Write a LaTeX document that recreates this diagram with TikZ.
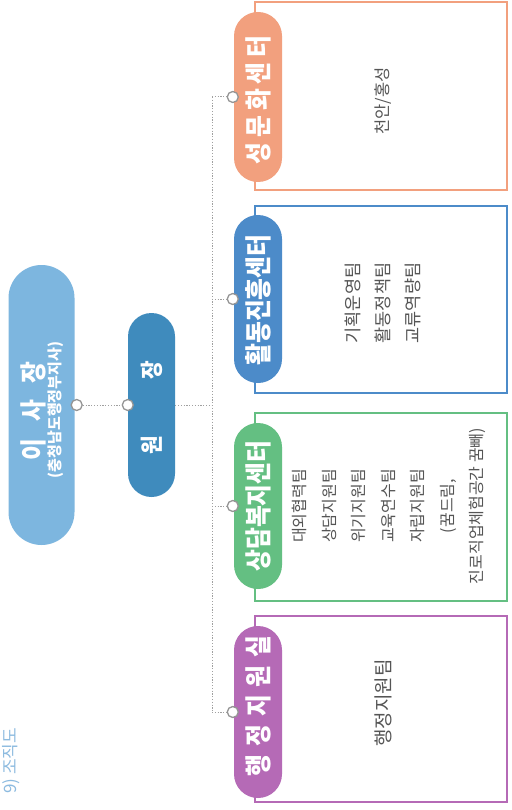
\documentclass[tikz,border=0pt]{standalone}
\usepackage{fontspec}
\setmainfont{Noto Sans CJK KR}
\newfontfamily\krc{Noto Sans CJK KR}[FakeStretch=0.88]
\definecolor{orgC}{HTML}{F2A07E}
\definecolor{actC}{HTML}{4C8BC9}
\definecolor{grnC}{HTML}{64BF82}
\definecolor{purC}{HTML}{B56AB6}
\definecolor{chairC}{HTML}{7DB6DF}
\definecolor{dirC}{HTML}{3F8BBD}
\definecolor{titC}{HTML}{8DBBE0}
\definecolor{txtC}{HTML}{555555}
\definecolor{dotC}{HTML}{A0A0A0}
\definecolor{ringC}{HTML}{959595}
\tikzset{
  pill/.style={rotate=90, inner sep=0pt, draw=none},
  deptpill/.style={pill, minimum height=48pt, rounded corners=24pt},
  pilltext/.style={rotate=90, inner sep=0pt, text=white, font=\krc\bfseries\fontsize{27}{27}\selectfont},
  deptbox/.style={draw, line width=1.3pt, minimum width=252pt, inner sep=0pt, fill=white},
  boxtext/.style={rotate=90, inner sep=0pt, text=txtC, align=center},
  ring/.style={circle, draw=ringC, fill=white, line width=1.3pt, minimum size=11pt, inner sep=0pt},
  conn/.style={draw=dotC, line width=1pt, dash pattern=on 1.2pt off 1.6pt}
}
\begin{document}
\begin{tikzpicture}[x=1pt,y=1pt]
\path[use as bounding box, fill=white] (0,0) rectangle (511,-810);

% title
\node[rotate=90, text=titC, inner sep=0pt, font=\fontsize{17}{17}\selectfont] (title) at (11,-761) {9) 조직도};

% department boxes
\node[deptbox, draw=orgC, minimum height=188pt] (b1) at (381,-96) {};
\node[deptbox, draw=actC, minimum height=187pt] (b2) at (381,-299.5) {};
\node[deptbox, draw=grnC, minimum height=188pt] (b3) at (381,-507) {};
\node[deptbox, draw=purC, minimum height=186pt] (b4) at (381,-709) {};

% box contents
\node[boxtext, font=\fontsize{16.5}{16.5}\selectfont] (b1t) at (383,-101) {천안/홍성};
\node[boxtext, font=\fontsize{17.5}{30}\selectfont] (b2t) at (383,-303) {기획운영팀\\활동정책팀\\교류역량팀};
\node[boxtext, font=\fontsize{16}{29.5}\selectfont] (b3t) at (389,-506) {대외협력팀\\상담지원팀\\위기지원팀\\교육연수팀\\자립지원팀\\(꿈드림,\\진로직업체험공간 꿈빼)};
\node[boxtext, font=\fontsize{19}{19}\selectfont] (b4t) at (383,-703) {행정지원팀};

% chairman
\node[pill, fill=chairC, minimum width=280pt, minimum height=66pt, rounded corners=33pt] (chair) at (41.5,-405) {};
\node[pilltext, font=\krc\bfseries\fontsize{27}{27}\selectfont] (chairt) at (33,-411) {이\hspace{17pt}사\hspace{17pt}장};
\node[pilltext, font=\bfseries\fontsize{15}{15}\selectfont] (chairs) at (56,-410) {(충청남도행정부지사)};

% director
\node[pill, fill=dirC, minimum width=184pt, minimum height=47pt, rounded corners=23.5pt] (dir) at (151.5,-405) {};
\node[pilltext, font=\krc\bfseries\fontsize{23}{23}\selectfont] (dirt) at (152,-407.5) {원\hspace{57pt}장};

% department pills
\node[deptpill, fill=orgC, minimum width=170pt] (p1) at (258,-97) {};
\node[pilltext] (p1t) at (258,-100) {성\hspace{5pt}문\hspace{5pt}화\hspace{5pt}센\hspace{5pt}터};
\node[deptpill, fill=actC, minimum width=168pt] (p2) at (258,-299) {};
\node[pilltext] (p2t) at (258,-300) {활동진흥센터};
\node[deptpill, fill=grnC, minimum width=166pt] (p3) at (258,-506) {};
\node[pilltext] (p3t) at (258,-506) {상담복지센터};
\node[deptpill, fill=purC, minimum width=172pt] (p4) at (258,-712) {};
\node[pilltext] (p4t) at (258,-706) {행\hspace{8pt}정\hspace{8pt}지\hspace{8pt}원\hspace{8pt}실};

% trunk coordinates
\coordinate (t0) at (212,-405);
\coordinate (t1) at (212,-97);
\coordinate (t2) at (212,-299);
\coordinate (t3) at (212,-506);
\coordinate (t4) at (212,-712);

% connectors
\draw[conn] (t1) -- (t4);
\draw[conn] (dir.south) -- (t0);

% rings
\node[ring] (c0) at ([xshift=2pt]chair.south) {};
\node[ring] (cd) at (dir.north) {};
\node[ring] (c1) at ([xshift=-1pt]p1.north) {};
\node[ring] (c2) at ([xshift=-1pt]p2.north) {};
\node[ring] (c3) at ([xshift=-1pt]p3.north) {};
\node[ring] (c4) at ([xshift=-1pt]p4.north) {};

\draw[conn] (c0) -- (cd);
\draw[conn] (t1) -- (c1);
\draw[conn] (t2) -- (c2);
\draw[conn] (t3) -- (c3);
\draw[conn] (t4) -- (c4);
\end{tikzpicture}
\end{document}
